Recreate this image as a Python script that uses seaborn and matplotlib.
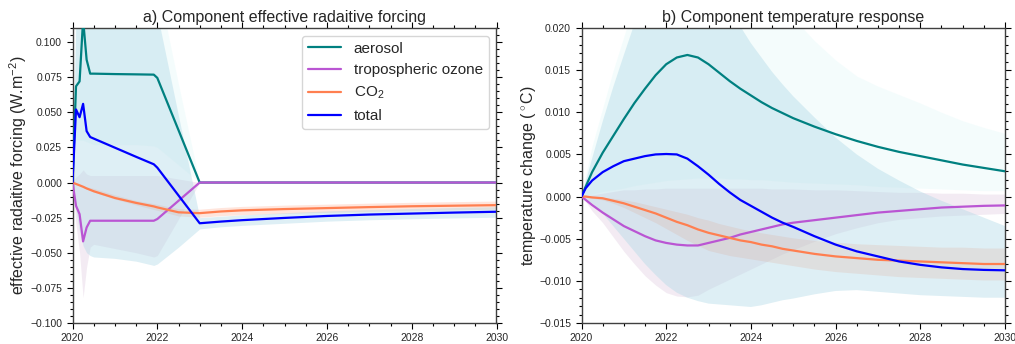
import numpy as np
import pandas as pd
import matplotlib
matplotlib.use("Agg")
import matplotlib.pyplot as plt
import seaborn as sns
from matplotlib.ticker import MultipleLocator

# ---------------- data: effective radiative forcing (panel a) ----------------
t_F = [2020.0, 2020.083, 2020.167, 2020.25, 2020.333, 2020.417, 2020.5, 2021.0, 2021.5,
       2021.917, 2022.0, 2022.5, 2023.0, 2023.5, 2024.0, 2025.0, 2026.0, 2027.0, 2028.0,
       2029.0, 2030.0]
aerosol_F = [0, 0.0685, 0.072, 0.116, 0.0874, 0.0775, 0.0775, 0.0772, 0.077, 0.0768, 0.0745,
             0.0373, 0, 0, 0, 0, 0, 0, 0, 0, 0]
ozone_F = [0, -0.0166, -0.0225, -0.0419, -0.032, -0.0272, -0.0272, -0.0272, -0.0272, -0.0272,
           -0.026, -0.013, 0, 0, 0, 0, 0, 0, 0, 0, 0]
co2_F = [0, -0.001, -0.002, -0.003, -0.0042, -0.0052, -0.0062, -0.011, -0.0145, -0.017,
         -0.0177, -0.0212, -0.0218, -0.0206, -0.0198, -0.0189, -0.0182, -0.0175, -0.0169,
         -0.0165, -0.0161]
total_F = [0, 0.052, 0.0465, 0.056, 0.0366, 0.0324, 0.0313, 0.0248, 0.0183, 0.013, 0.0106,
           -0.0092, -0.029, -0.0278, -0.0268, -0.0252, -0.0238, -0.0228, -0.0221, -0.0214,
           -0.0208]
aer_lo_F = [0, 0.03, 0.03, 0.03, 0.029, 0.028, 0.027, 0.027, 0.027, 0.026, 0.025, 0.0125,
            0, 0, 0, 0, 0, 0, 0, 0, 0]
aer_hi_F = [0, 0.15, 0.15, 0.16, 0.155, 0.15, 0.15, 0.15, 0.15, 0.15, 0.143, 0.07,
            0, 0, 0, 0, 0, 0, 0, 0, 0]
oz_lo_F = [0, -0.03, -0.05, -0.082, -0.06, -0.046, -0.044, -0.047, -0.05, -0.053, -0.052,
           -0.026, 0, 0, 0, 0, 0, 0, 0, 0, 0]
oz_hi_F = [0, 0.004, 0.006, 0.009, 0.006, 0.005, 0.005, 0.005, 0.005, 0.005, 0.005, 0.0025,
           0, 0, 0, 0, 0, 0, 0, 0, 0]
co2_lo_F = [0, -0.0012, -0.0024, -0.0036, -0.0046, -0.0056, -0.0068, -0.0118, -0.016, -0.0192,
            -0.0198, -0.0238, -0.0247, -0.0236, -0.0229, -0.022, -0.0213, -0.0206, -0.02,
            -0.0195, -0.019]
co2_hi_F = [0, -0.0008, -0.0016, -0.0024, -0.003, -0.0036, -0.0042, -0.0088, -0.0128, -0.015,
            -0.0155, -0.0186, -0.019, -0.0178, -0.017, -0.0161, -0.0154, -0.0147, -0.0141,
            -0.0136, -0.0132]
tot_lo_F = [0, -0.02, -0.035, -0.045, -0.05, -0.052, -0.053, -0.054, -0.056, -0.059, -0.058,
            -0.046, -0.033, -0.0315, -0.0305, -0.029, -0.0275, -0.0265, -0.0258, -0.0252,
            -0.0247]
tot_hi_F = [0, 0.12, 0.12, 0.13, 0.12, 0.12, 0.12, 0.12, 0.12, 0.12, 0.12, 0.0475, -0.025,
            -0.024, -0.023, -0.0215, -0.0202, -0.0192, -0.0185, -0.0178, -0.0172]

# ---------------- data: temperature response (panel b) ----------------
t_T = [2020.0, 2020.1, 2020.25, 2020.5, 2020.75, 2021.0, 2021.25, 2021.5, 2021.75,
       2022.0, 2022.25, 2022.5, 2022.75, 2023.0, 2023.25, 2023.5, 2023.75, 2024.0,
       2024.25, 2024.5, 2024.75, 2025.0, 2025.5, 2026.0, 2026.5, 2027.0, 2027.5,
       2028.0, 2028.5, 2029.0, 2029.5, 2030.0]
aerosol_T = [0, 0.0012, 0.0029, 0.0052, 0.0072, 0.0092, 0.0111, 0.0128, 0.0144,
             0.0157, 0.0165, 0.0168, 0.0165, 0.0157, 0.0147, 0.0137, 0.0128, 0.012,
             0.0112, 0.0105, 0.0099, 0.0093, 0.0083, 0.0074, 0.0066, 0.0059, 0.0053,
             0.0048, 0.0043, 0.0038, 0.0034, 0.003]
ozone_T = [0, -0.0004, -0.001, -0.0019, -0.0027, -0.0035, -0.0041, -0.0047, -0.0052,
           -0.0055, -0.0057, -0.0058, -0.0058, -0.0055, -0.0052, -0.0049, -0.0045, -0.0042,
           -0.0039, -0.0036, -0.0033, -0.0031, -0.0028, -0.0025, -0.0022, -0.0019, -0.0017,
           -0.0015, -0.0013, -0.0012, -0.0011, -0.00105]
co2_T = [0, 0, -0.0001, -0.0002, -0.0005, -0.0008, -0.0012, -0.0016, -0.002,
         -0.0025, -0.003, -0.0034, -0.0039, -0.0043, -0.0046, -0.0049, -0.0052, -0.0054,
         -0.0057, -0.0059, -0.0062, -0.0064, -0.0068, -0.0071, -0.0073, -0.0075, -0.0076,
         -0.0077, -0.0078, -0.0079, -0.008, -0.008]
total_T = [0, 0.001, 0.0019, 0.0029, 0.0036, 0.0042, 0.0045, 0.0048, 0.005,
           0.00505, 0.005, 0.0045, 0.0036, 0.0026, 0.0015, 0.0005, -0.0004, -0.0011,
           -0.0018, -0.0025, -0.0031, -0.0036, -0.0047, -0.0057, -0.0065, -0.0071, -0.0077,
           -0.0081, -0.0084, -0.0086, -0.0087, -0.00875]
aer_lo_T = [0, 0.0001, 0.0003, 0.0006, 0.0008, 0.001, 0.0013, 0.0015, 0.0017,
            0.0019, 0.002, 0.0021, 0.0022, 0.0022, 0.0022, 0.0021, 0.0021, 0.002,
            0.002, 0.0019, 0.0018, 0.0017, 0.0016, 0.0015, 0.0014, 0.0012, 0.0011,
            0.001, 0.0009, 0.0008, 0.0007, 0.0007]
aer_hi_T = [0, 0.0026, 0.006, 0.0105, 0.015, 0.019, 0.023, 0.026, 0.029,
            0.031, 0.033, 0.034, 0.034, 0.033, 0.0315, 0.03, 0.0285, 0.027,
            0.0255, 0.024, 0.0226, 0.0212, 0.0185, 0.0162, 0.0143, 0.0131, 0.0121,
            0.0111, 0.01, 0.009, 0.0082, 0.0075]
tot_lo_T = [0, -0.0003, -0.0008, -0.002, -0.0035, -0.005, -0.0065, -0.008, -0.0093,
            -0.0105, -0.0114, -0.012, -0.0124, -0.0127, -0.0128, -0.0129, -0.013, -0.0131,
            -0.0129, -0.0126, -0.0123, -0.0121, -0.0116, -0.0112, -0.0111, -0.0113, -0.0115,
            -0.0117, -0.0118, -0.0119, -0.012, -0.012]
tot_hi_T = [0, 0.0018, 0.0045, 0.0089, 0.013, 0.0168, 0.0205, 0.024, 0.0268,
            0.029, 0.03, 0.031, 0.03, 0.028, 0.0255, 0.0225, 0.0202, 0.0182,
            0.0165, 0.0148, 0.0133, 0.0119, 0.0094, 0.007, 0.005, 0.0033, 0.0019,
            0.0006, -0.0005, -0.0015, -0.0025, -0.0035]
oz_lo_T = [0, -0.0006, -0.0017, -0.0031, -0.0048, -0.0065, -0.008, -0.0094, -0.0105,
           -0.0114, -0.0118, -0.0119, -0.0117, -0.011, -0.0104, -0.0098, -0.0092, -0.0086,
           -0.008, -0.0074, -0.0068, -0.0063, -0.0053, -0.0044, -0.0037, -0.0031, -0.0027,
           -0.0025, -0.0023, -0.0022, -0.0021, -0.002]
oz_hi_T = [0, 0.0001, 0.0002, 0.0004, 0.0006, 0.0008, 0.0008, 0.0009, 0.0009,
           0.001, 0.001, 0.001, 0.001, 0.001, 0.001, 0.001, 0.001, 0.001,
           0.001, 0.0009, 0.0009, 0.0009, 0.0008, 0.0008, 0.0007, 0.0006, 0.0005,
           0.0005, 0.0004, 0.0004, 0.0003, 0.0003]
co2_lo_T = [0, -0.0001, -0.0002, -0.0004, -0.0008, -0.0013, -0.0019, -0.0025, -0.0031,
            -0.0038, -0.0045, -0.0052, -0.0058, -0.0064, -0.0067, -0.007, -0.0072, -0.0074,
            -0.0076, -0.0078, -0.008, -0.0082, -0.0086, -0.0089, -0.0091, -0.0093, -0.0095,
            -0.0096, -0.0097, -0.0098, -0.0099, -0.0099]
co2_hi_T = [0, 0, 0, -0.0001, -0.0002, -0.0004, -0.0006, -0.0009, -0.0012,
            -0.0015, -0.0018, -0.0021, -0.0025, -0.0028, -0.0032, -0.0035, -0.0038, -0.0041,
            -0.0043, -0.0045, -0.0047, -0.0049, -0.0052, -0.0054, -0.0056, -0.0057, -0.0058,
            -0.0059, -0.006, -0.006, -0.0061, -0.0061]

labels = ["aerosol", "tropospheric ozone", "CO$_2$", "total"]
line_colors = ["teal", "mediumorchid", "coral", "blue"]
band_colors = [("paleturquoise", 0.13), ("thistle", 0.3), ("coral", 0.2), ("lightblue", 0.4)]

sns.set_style("ticks")
plt.rcParams["font.family"] = ["Liberation Sans", "DejaVu Sans"]
plt.rcParams["mathtext.fontset"] = "custom"
plt.rcParams["mathtext.rm"] = "Liberation Sans"
plt.rcParams["mathtext.it"] = "Liberation Sans:italic"

fig = plt.figure(figsize=(10.15, 3.44), dpi=100)
ax1 = fig.add_axes([72.5 / 1015, 21 / 344, 424 / 1015, 295 / 344])
ax2 = fig.add_axes([581.5 / 1015, 21 / 344, 423.5 / 1015, 295 / 344])

panels = [
    (ax1, t_F, [aerosol_F, ozone_F, co2_F, total_F],
     [(aer_lo_F, aer_hi_F), (oz_lo_F, oz_hi_F), (co2_lo_F, co2_hi_F), (tot_lo_F, tot_hi_F)]),
    (ax2, t_T, [aerosol_T, ozone_T, co2_T, total_T],
     [(aer_lo_T, aer_hi_T), (oz_lo_T, oz_hi_T), (co2_lo_T, co2_hi_T), (tot_lo_T, tot_hi_T)]),
]

for ax, t, series, bands in panels:
    for (lo, hi), (bc, ba) in zip(bands, band_colors):
        ax.fill_between(t, lo, hi, color=bc, alpha=ba, linewidth=0, zorder=1)
    for vals, lab, lc in zip(series, labels, line_colors):
        df = pd.DataFrame({"year": t, "value": vals})
        sns.lineplot(data=df, x="year", y="value", ax=ax, color=lc, lw=1.6,
                     label=lab if ax is ax1 else None, legend=(ax is ax1), zorder=3)
    ax.set_xlim(2020, 2030)
    ax.xaxis.set_major_locator(MultipleLocator(2))
    ax.xaxis.set_minor_locator(MultipleLocator(0.5))
    ax.tick_params(which="both", direction="out", top=True, right=True, labelsize=7.5,
                   color="black")
    ax.tick_params(which="major", length=4, width=0.8)
    ax.tick_params(which="minor", length=2, width=0.8)
    ax.set_xlabel("")
    for sp in ax.spines.values():
        sp.set_color("0.25")
        sp.set_linewidth(1.0)

ax1.set_ylim(-0.1, 0.11)
ax1.yaxis.set_major_locator(MultipleLocator(0.025))
ax1.yaxis.set_minor_locator(MultipleLocator(0.005))
ax1.set_ylabel("effective radaitive forcing (W.m$^{-2}$)", fontsize=11.5, labelpad=1)
ax1.set_title("a) Component effective radaitive forcing", fontsize=11.5, pad=4)

ax2.set_ylim(-0.015, 0.02)
ax2.yaxis.set_major_locator(MultipleLocator(0.005))
ax2.yaxis.set_minor_locator(MultipleLocator(0.001))
ax2.set_ylabel("temperature change ($^\\circ$C)", fontsize=11.5, labelpad=1)
ax2.set_title("b) Component temperature response", fontsize=11.5, pad=4)

ax1.legend(loc="upper right", fontsize=11, handlelength=2.2, frameon=True)

fig.savefig("out.png", dpi=100)
